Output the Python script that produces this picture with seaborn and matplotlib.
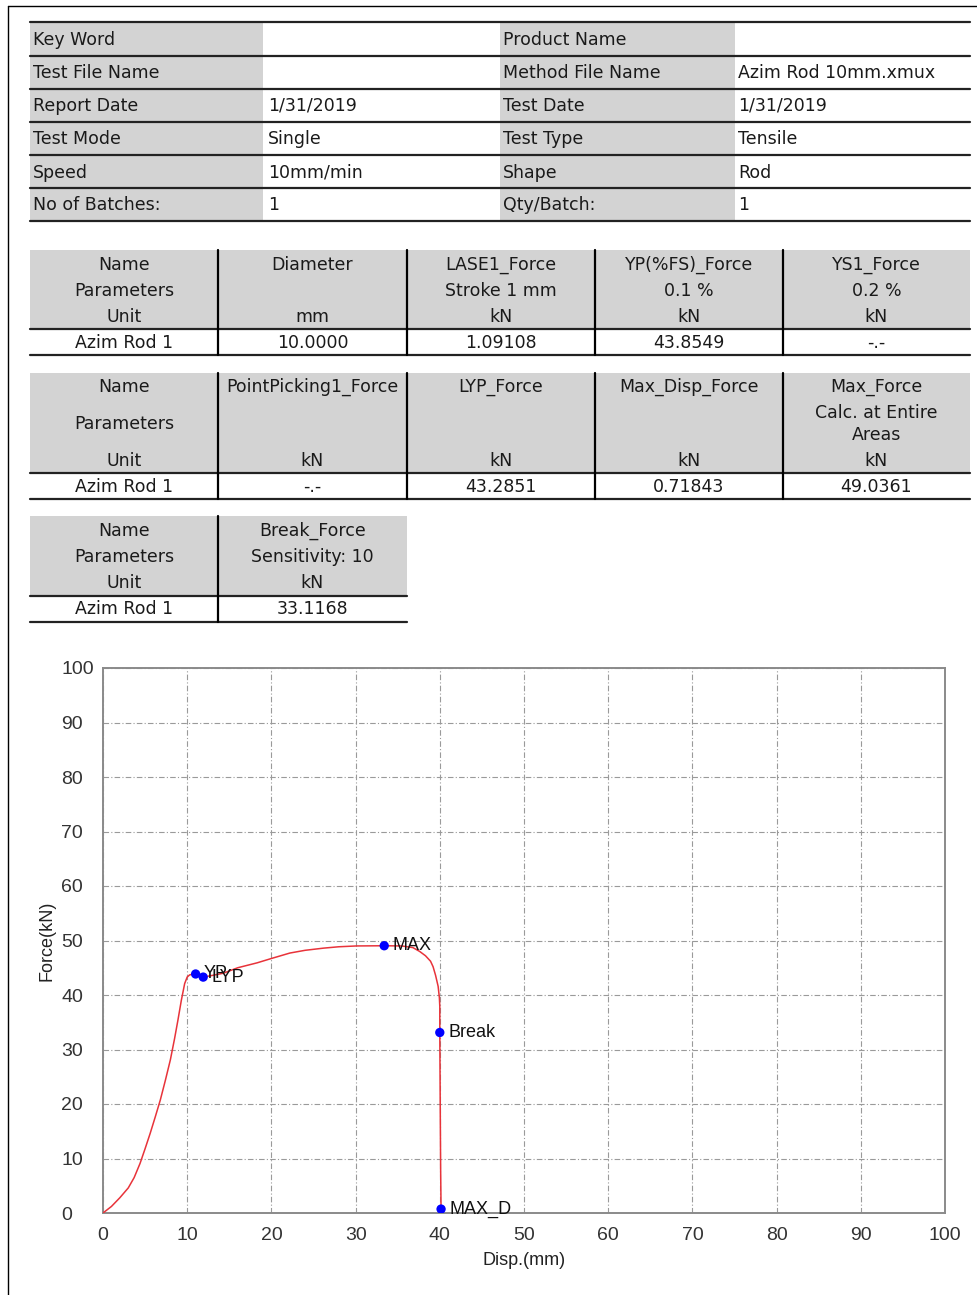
import numpy as np
import pandas as pd
import matplotlib
matplotlib.use("Agg")
import matplotlib.pyplot as plt
from matplotlib.patches import Rectangle
from matplotlib.lines import Line2D
import seaborn as sns

# ---- report header ----
info_left_labels = ["Key Word", "Test File Name", "Report Date", "Test Mode", "Speed", "No of Batches:"]
info_left_values = ["", "", "1/31/2019", "Single", "10mm/min", "1"]
info_right_labels = ["Product Name", "Method File Name", "Test Date", "Test Type", "Shape", "Qty/Batch:"]
info_right_values = ["", "Azim Rod 10mm.xmux", "1/31/2019", "Tensile", "Rod", "1"]

# ---- result tables ----
specimen = "Azim Rod 1"
t1_names = ["Diameter", "LASE1_Force", "YP(%FS)_Force", "YS1_Force"]
t1_params = ["", "Stroke 1 mm", "0.1 %", "0.2 %"]
t1_units = ["mm", "kN", "kN", "kN"]
t1_values = ["10.0000", "1.09108", "43.8549", "-.-"]

t2_names = ["PointPicking1_Force", "LYP_Force", "Max_Disp_Force", "Max_Force"]
t2_params = ["", "", "", "Calc. at Entire\nAreas"]
t2_units = ["kN", "kN", "kN", "kN"]
t2_values = ["-.-", "43.2851", "0.71843", "49.0361"]

t3_names = ["Break_Force"]
t3_params = ["Sensitivity: 10"]
t3_units = ["kN"]
t3_values = ["33.1168"]

# ---- force / displacement curve ----
disp = [0.0, 1.0, 2.0, 3.0, 3.7, 4.4, 5.0, 5.6, 6.2, 6.8, 7.4, 8.0, 8.5, 8.9,
        9.3, 9.7, 10.0, 10.3, 11.0, 11.9, 13.0, 14.3, 16.0, 18.3, 20.0, 22.2,
        24.0, 26.2, 28.0, 30.1, 33.4, 35.5, 36.8, 37.6, 38.3, 38.9, 39.2, 39.5,
        39.8, 39.95, 40.0, 40.0, 40.05, 40.1, 40.15]
force = [0.0, 1.2, 2.8, 4.6, 6.5, 9.1, 11.8, 14.6, 17.6, 20.7, 24.3, 28.1, 32.0,
         35.4, 39.0, 42.1, 43.3, 43.7, 43.8549, 43.2851, 43.6, 44.0, 45.0, 45.9,
         46.7, 47.7, 48.2, 48.6, 48.85, 49.0, 49.0361, 49.0, 48.7, 48.0, 47.2,
         46.2, 45.2, 43.6, 41.6, 39.5, 37.9, 33.1168, 20.0, 8.0, 0.71843]

point_names = ["YP", "LYP", "MAX", "Break", "MAX_D"]
point_disp = [11.0, 11.9, 33.4, 40.0, 40.15]
point_force = [43.8549, 43.2851, 49.0361, 33.1168, 0.71843]

x_ticks = [0, 10, 20, 30, 40, 50, 60, 70, 80, 90, 100]
y_ticks = [0, 10, 20, 30, 40, 50, 60, 70, 80, 90, 100]

sns.set_theme(style="white")
plt.rcParams["font.family"] = ["DejaVu Sans"]

W, H = 978, 1295
fig = plt.figure(figsize=(W / 100, H / 100), dpi=100)

def fx(x):
    return x / W

def fy(y):
    return 1 - y / H

GRAY = "#d3d3d3"
TXT = "#1a1a1a"
FS = 12.5

def hline(x0, x1, y, color="#222222", lw=1.6):
    fig.add_artist(Line2D([fx(x0), fx(x1)], [fy(y), fy(y)], color=color, lw=lw,
                          transform=fig.transFigure))

def vline(x, y0, y1, color="black", lw=1.6):
    fig.add_artist(Line2D([fx(x), fx(x)], [fy(y0), fy(y1)], color=color, lw=lw,
                          transform=fig.transFigure))

def rect(x0, y0, x1, y1, color=GRAY):
    fig.add_artist(Rectangle((fx(x0), fy(y1)), fx(x1) - fx(x0), fy(y0) - fy(y1),
                             facecolor=color, edgecolor="none", transform=fig.transFigure))

def txt(x, y, s, ha="left"):
    fig.text(fx(x), fy(y), s, ha=ha, va="center", fontsize=FS, color=TXT)

# page border
hline(8, W, 6, color="black", lw=1.0)
vline(8, 6, H, color="black", lw=1.0)

# header block
row_lines = [22, 55.5, 88.5, 121.5, 155, 188, 221]
for i in range(6):
    y0, y1 = row_lines[i], row_lines[i + 1]
    rect(30, y0, 263, y1)
    rect(500, y0, 735, y1)
    yc = (y0 + y1) / 2 + 1
    txt(33, yc, info_left_labels[i])
    txt(268, yc, info_left_values[i])
    txt(503, yc, info_right_labels[i])
    txt(738, yc, info_right_values[i])
for y in row_lines:
    hline(30, 970, y)

def result_table(col_edges, top, head_rows, head_bot, data_y, bottom,
                 names, params, units, values, name_rows):
    rect(col_edges[0], top, col_edges[-1], head_bot)
    centers = [(a + b) / 2 for a, b in zip(col_edges[:-1], col_edges[1:])]
    for s, y in zip(["Name", "Parameters", "Unit"], name_rows):
        txt(centers[0], y, s, ha="center")
    txt(centers[0], data_y, specimen, ha="center")
    for c, n, p, u, v in zip(centers[1:], names, params, units, values):
        txt(c, head_rows[0], n, ha="center")
        plines = p.split("\n") if p else []
        for k, pl in enumerate(plines):
            txt(c, head_rows[1 + k], pl, ha="center")
        txt(c, head_rows[-1], u, ha="center")
        txt(c, data_y, v, ha="center")
    hline(col_edges[0], col_edges[-1], head_bot)
    hline(col_edges[0], col_edges[-1], bottom)
    for x in col_edges[1:-1]:
        vline(x, top, bottom)

cols5 = [30, 218, 407, 595, 783, 970]
result_table(cols5, 250, [265, 291, 317], 329, 343, 355,
             t1_names, t1_params, t1_units, t1_values, [265, 291, 317])
result_table(cols5, 373, [387, 413, 435, 461], 473, 487, 499,
             t2_names, t2_params, t2_units, t2_values, [387, 424, 461])
result_table([30, 218, 407], 516, [531, 557, 583], 596, 609, 622,
             t3_names, t3_params, t3_units, t3_values, [531, 557, 583])

# ---- chart ----
ax = fig.add_axes([fx(103), fy(1213), fx(945) - fx(103), fy(668) - fy(1213)])
curve = pd.DataFrame({"disp": disp, "force": force})
pts = pd.DataFrame({"name": point_names, "disp": point_disp, "force": point_force})

sns.lineplot(data=curve, x="disp", y="force", sort=False, estimator=None,
             color="#e8333a", lw=1.1, ax=ax, zorder=3)
sns.scatterplot(data=pts, x="disp", y="force", color="#0000ff", s=45,
                edgecolor="none", ax=ax, zorder=4)
for _, r in pts.iterrows():
    ax.annotate(r["name"], (r["disp"], r["force"]), xytext=(6, 0),
                textcoords="offset points", ha="left", va="center",
                fontsize=13, family="Liberation Sans", color="#111111", zorder=5)

ax.set_xlim(0, 100)
ax.set_ylim(0, 100)
ax.set_xticks(x_ticks)
ax.set_yticks(y_ticks)
ax.grid(True, color="#9a9a9a", lw=0.8, linestyle=(0, (5, 2, 1, 2)))
for sp in ax.spines.values():
    sp.set_color("#8a8a8a")
    sp.set_linewidth(1.4)
ax.tick_params(axis="x", length=0, pad=10, labelsize=14, labelcolor="#333333")
ax.tick_params(axis="y", length=0, pad=30, labelsize=14, labelcolor="#333333")
for lab in ax.get_xticklabels() + ax.get_yticklabels():
    lab.set_family("Liberation Sans")
for lab in ax.get_yticklabels():
    lab.set_ha("left")
ax.set_xlabel("Disp.(mm)", fontsize=13, family="Liberation Sans", color="#222222", labelpad=6)
ax.set_ylabel("Force(kN)", fontsize=13, family="Liberation Sans", color="#222222", labelpad=4)

fig.savefig("out.png", dpi=100, facecolor="white")
